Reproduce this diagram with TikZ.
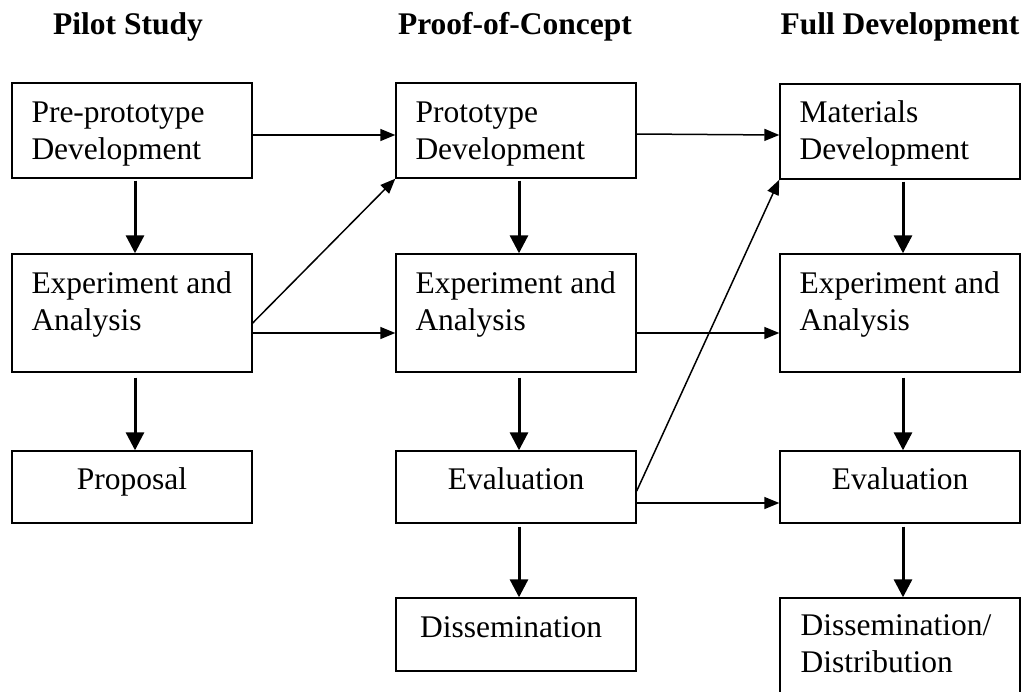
\documentclass[tikz,border=0pt]{standalone}
\usepackage{fontspec}
\setmainfont{Liberation Serif}
\usetikzlibrary{arrows.meta}
\begin{document}
\begin{tikzpicture}[x=1pt,y=-1pt,
  box/.style={draw,line width=1.4pt,inner sep=0pt,minimum width=240pt},
  txt/.style={anchor=base west,inner sep=0pt,align=left,font=\fontsize{31.5}{37}\selectfont},
  ctxt/.style={anchor=base,inner sep=0pt,font=\fontsize{31.5}{37}\selectfont},
  ttl/.style={anchor=base,inner sep=0pt,font=\bfseries\fontsize{31.5}{37}\selectfont},
  bigarrow/.style={line width=3pt,-{Triangle[length=18pt,width=18pt]}},
  thinarrow/.style={line width=1.5pt,-{Triangle[length=15pt,width=12pt]}}]
\useasboundingbox (0,0) rectangle (1022,691);
\clip (0,0) rectangle (1022,691);
% titles
\node[ttl] (t1) at (128,34) {Pilot Study};
\node[ttl] (t2) at (515,34) {Proof-of-Concept};
\node[ttl] (t3) at (900,34) {Full Development};
% column 1
\node[box,minimum height=95pt]  (a1) at (132,130.5) {};
\node[box,minimum height=118pt] (a2) at (132,313) {};
\node[box,minimum height=72pt]  (a3) at (132,487) {};
% column 2
\node[box,minimum height=95pt]  (b1) at (516,130.5) {};
\node[box,minimum height=118pt] (b2) at (516,313) {};
\node[box,minimum height=72pt]  (b3) at (516,487) {};
\node[box,minimum height=73pt]  (b4) at (516,634.5) {};
% column 3
\node[box,minimum height=95pt]  (c1) at (900,131.5) {};
\node[box,minimum height=118pt] (c2) at (900,313) {};
\node[box,minimum height=72pt]  (c3) at (900,487) {};
\node[box,minimum height=132pt] (c4) at (900,664) {};
% texts (base anchor = baseline of last line)
\node[txt] (a1t) at ([shift={(20,77)}]a1.north west) {Pre-prototype\\Development};
\node[txt] (a2t) at ([shift={(20,77)}]a2.north west) {Experiment and\\Analysis};
\node[ctxt] (a3t) at ([shift={(0,39)}]a3.north) {Proposal};
\node[txt] (b1t) at ([shift={(20,77)}]b1.north west) {Prototype\\Development};
\node[txt] (b2t) at ([shift={(20,77)}]b2.north west) {Experiment and\\Analysis};
\node[ctxt] (b3t) at ([shift={(0,39)}]b3.north) {Evaluation};
\node[ctxt] (b4t) at ([shift={(-5,40)}]b4.north) {Dissemination};
\node[txt] (c1t) at ([shift={(20,76)}]c1.north west) {Materials\\Development};
\node[txt] (c2t) at ([shift={(20,77)}]c2.north west) {Experiment and\\Analysis};
\node[ctxt] (c3t) at ([shift={(0,39)}]c3.north) {Evaluation};
\node[txt] (c4t) at ([shift={(21,75)}]c4.north west) {Dissemination/\\Distribution};
% vertical arrows
\draw[bigarrow] ([shift={(3,2)}]a1.south) -- ([xshift=3pt]a2.north);
\draw[bigarrow] ([shift={(3,5)}]a2.south) -- ([xshift=3pt]a3.north);
\draw[bigarrow] ([shift={(3,2)}]b1.south) -- ([xshift=3pt]b2.north);
\draw[bigarrow] ([shift={(3,5)}]b2.south) -- ([xshift=3pt]b3.north);
\draw[bigarrow] ([shift={(3,3)}]b3.south) -- ([xshift=3pt]b4.north);
\draw[bigarrow] ([shift={(3,2)}]c1.south) -- ([xshift=3pt]c2.north);
\draw[bigarrow] ([shift={(3,5)}]c2.south) -- ([xshift=3pt]c3.north);
\draw[bigarrow] ([shift={(3,3)}]c3.south) -- ([xshift=3pt]c4.north);
% horizontal arrows
\draw[thinarrow] ([shift={(0,4.5)}]a1.east) -- ([shift={(0,4.5)}]b1.west);
\draw[thinarrow] ([shift={(0,3.5)}]b1.east) -- ([shift={(0,3.5)}]c1.west);
\draw[thinarrow] ([shift={(0,20)}]a2.east) -- ([shift={(0,20)}]b2.west);
\draw[thinarrow] ([shift={(0,20)}]b2.east) -- ([shift={(0,20)}]c2.west);
\draw[thinarrow] ([shift={(0,16)}]b3.east) -- ([shift={(0,16)}]c3.west);
% diagonal arrows
\draw[thinarrow] ([shift={(0,10)}]a2.east) -- (b1.south west);
\draw[thinarrow] ([shift={(0,4)}]b3.east) -- (c1.south west);
\end{tikzpicture}
\end{document}
